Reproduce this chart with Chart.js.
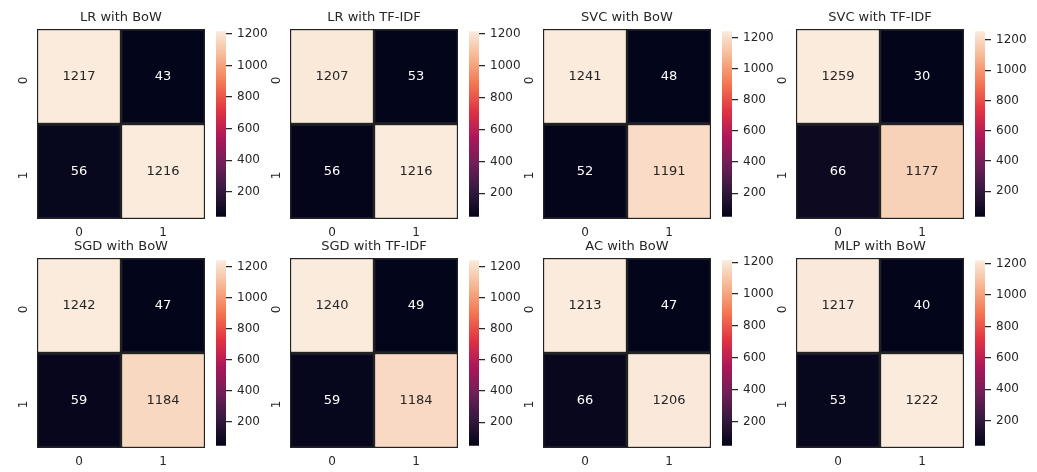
<!DOCTYPE html>
<html>
<head>
<meta charset="utf-8">
<script src="https://cdn.jsdelivr.net/npm/chart.js@4.4.0/dist/chart.umd.min.js"></script>
<style>
  body { margin: 0; background: #fff; }
  #fig { position: relative; width: 1037px; height: 472px; overflow: hidden; background: #fff; }
  #fig canvas { position: absolute; }
</style>
</head>
<body>
<div id="fig"></div>
<script>
// confusion matrices, rows = true class, cols = predicted
const classLabels = ['0', '1'];
const titles = ['LR with BoW', 'LR with TF-IDF', 'SVC with BoW', 'SVC with TF-IDF',
                'SGD with BoW', 'SGD with TF-IDF', 'AC with BoW', 'MLP with BoW'];
const lrBow    = [[1217, 43], [56, 1216]];
const lrTfidf  = [[1207, 53], [56, 1216]];
const svcBow   = [[1241, 48], [52, 1191]];
const svcTfidf = [[1259, 30], [66, 1177]];
const sgdBow   = [[1242, 47], [59, 1184]];
const sgdTfidf = [[1240, 49], [59, 1184]];
const acBow    = [[1213, 47], [66, 1206]];
const mlpBow   = [[1217, 40], [53, 1222]];
const matrices = [lrBow, lrTfidf, svcBow, svcTfidf, sgdBow, sgdTfidf, acBow, mlpBow];
const colorbarTicks = [200, 400, 600, 800, 1000, 1200];

const FONT = '"DejaVu Sans", sans-serif';
const TEXT = '#262626';

// seaborn "rocket" colormap, approximated by a few stops
const rocketStops = [
  [0.0, '#03051a'], [1 / 7, '#35193e'], [2 / 7, '#701f57'], [3 / 7, '#ad1759'],
  [4 / 7, '#e13342'], [5 / 7, '#f37651'], [6 / 7, '#f6b48f'], [1.0, '#faebdd']
];

function hexRgb(h) {
  return [parseInt(h.slice(1, 3), 16), parseInt(h.slice(3, 5), 16), parseInt(h.slice(5, 7), 16)];
}

function rocketRgb(t) {
  t = Math.max(0, Math.min(1, t));
  for (let i = 1; i < rocketStops.length; i++) {
    const [t1, c1] = rocketStops[i];
    if (t <= t1) {
      const [t0, c0] = rocketStops[i - 1];
      const f = (t - t0) / (t1 - t0);
      const a = hexRgb(c0), b = hexRgb(c1);
      return a.map((v, k) => Math.round(v + (b[k] - v) * f));
    }
  }
  return hexRgb(rocketStops[rocketStops.length - 1][1]);
}

function rgbStr(c) { return `rgb(${c[0]},${c[1]},${c[2]})`; }

function luminance(c) {
  const lin = c.map(v => {
    v = v / 255;
    return v <= 0.03928 ? v / 12.92 : Math.pow((v + 0.055) / 1.055, 2.4);
  });
  return 0.2126 * lin[0] + 0.7152 * lin[1] + 0.0722 * lin[2];
}

const fig = document.getElementById('fig');

function addCanvas(left, top, w, h) {
  const c = document.createElement('canvas');
  c.width = w; c.height = h;
  c.style.left = left + 'px'; c.style.top = top + 'px';
  c.style.width = w + 'px'; c.style.height = h + 'px';
  fig.appendChild(c);
  return c;
}

function heatmap(canvas, title, m) {
  const lo = Math.min(...m.flat());
  const hi = Math.max(...m.flat());

  const datasets = m.map((row, r) => ({
    label: classLabels[r],
    data: row.map(() => 1),
    backgroundColor: row.map(v => rgbStr(rocketRgb((v - lo) / (hi - lo)))),
    borderColor: '#222222',
    borderWidth: 1.5,
    borderSkipped: false,
    barPercentage: 1,
    categoryPercentage: 1
  }));

  // write the count in the middle of each cell
  const annot = {
    id: 'annot',
    afterDatasetsDraw(chart) {
      const ctx = chart.ctx;
      ctx.save();
      ctx.font = '13px ' + FONT;
      ctx.textAlign = 'center';
      ctx.textBaseline = 'middle';
      m.forEach((row, r) => {
        const meta = chart.getDatasetMeta(r);
        row.forEach((v, c) => {
          const el = meta.data[c];
          const col = rocketRgb((v - lo) / (hi - lo));
          ctx.fillStyle = luminance(col) > 0.408 ? TEXT : '#ffffff';
          ctx.fillText(String(v), el.x, (el.y + el.base) / 2);
        });
      });
      ctx.restore();
    }
  };

  new Chart(canvas, {
    type: 'bar',
    data: { labels: classLabels, datasets: datasets },
    plugins: [annot],
    options: {
      responsive: false,
      animation: false,
      devicePixelRatio: 1,
      layout: { padding: 0 },
      plugins: {
        legend: { display: false },
        tooltip: { enabled: false },
        title: {
          display: true, text: title, color: TEXT, fullSize: false,
          font: { family: FONT, size: 13, weight: 'normal' },
          padding: { top: 9.4, bottom: 4 }
        }
      },
      scales: {
        x: {
          stacked: true,
          grid: { display: false, drawTicks: false },
          border: { display: false },
          ticks: { color: TEXT, font: { family: FONT, size: 12 }, padding: 7, maxRotation: 0 },
          afterFit(s) { s.height = 25; }
        },
        y: {
          stacked: true,
          min: 0, max: 2, reverse: true,
          grid: { display: false, drawTicks: false },
          border: { display: false },
          afterBuildTicks(s) { s.ticks = [{ value: 0.5 }, { value: 1.5 }]; },
          ticks: {
            color: TEXT, font: { family: FONT, size: 12 }, padding: 13,
            minRotation: 90, maxRotation: 90,
            callback: (v, i) => classLabels[i]
          },
          afterFit(s) { s.width = 37; }
        }
      }
    }
  });
  return [lo, hi];
}

function colorbar(canvas, lo, hi) {
  new Chart(canvas, {
    type: 'bar',
    data: {
      labels: ['cb'],
      datasets: [{
        data: [[lo, hi]],
        barPercentage: 1,
        categoryPercentage: 1,
        borderWidth: 0,
        backgroundColor(ctx) {
          const area = ctx.chart.chartArea;
          if (!area) return '#888';
          const g = ctx.chart.ctx.createLinearGradient(0, area.bottom, 0, area.top);
          rocketStops.forEach(([t, c]) => g.addColorStop(t, c));
          return g;
        }
      }]
    },
    options: {
      responsive: false,
      animation: false,
      devicePixelRatio: 1,
      layout: { padding: { top: 10, bottom: 10, left: 0, right: 0 } },
      plugins: { legend: { display: false }, tooltip: { enabled: false } },
      scales: {
        x: { display: false },
        y: {
          position: 'right',
          min: lo, max: hi,
          border: { display: false },
          grid: { drawOnChartArea: false, drawTicks: true, tickLength: 6, color: TEXT, lineWidth: 1.25 },
          afterBuildTicks(s) {
            s.ticks = colorbarTicks.filter(v => v >= s.min && v <= s.max).map(v => ({ value: v }));
          },
          ticks: { color: TEXT, font: { family: FONT, size: 12 }, padding: 5, callback: v => String(v) },
          afterFit(s) { s.width = 50; }
        }
      }
    }
  });
}

const colLefts = [0, 253, 506, 759];
const rowTops = [0, 229];

matrices.forEach((m, i) => {
  const left = colLefts[i % 4];
  const top = rowTops[Math.floor(i / 4)];
  const hm = addCanvas(left, top, 205, 244);
  const [lo, hi] = heatmap(hm, titles[i], m);
  const cb = addCanvas(left + 216, top + 19, 60, 210);
  colorbar(cb, lo, hi);
});
</script>
</body>
</html>
